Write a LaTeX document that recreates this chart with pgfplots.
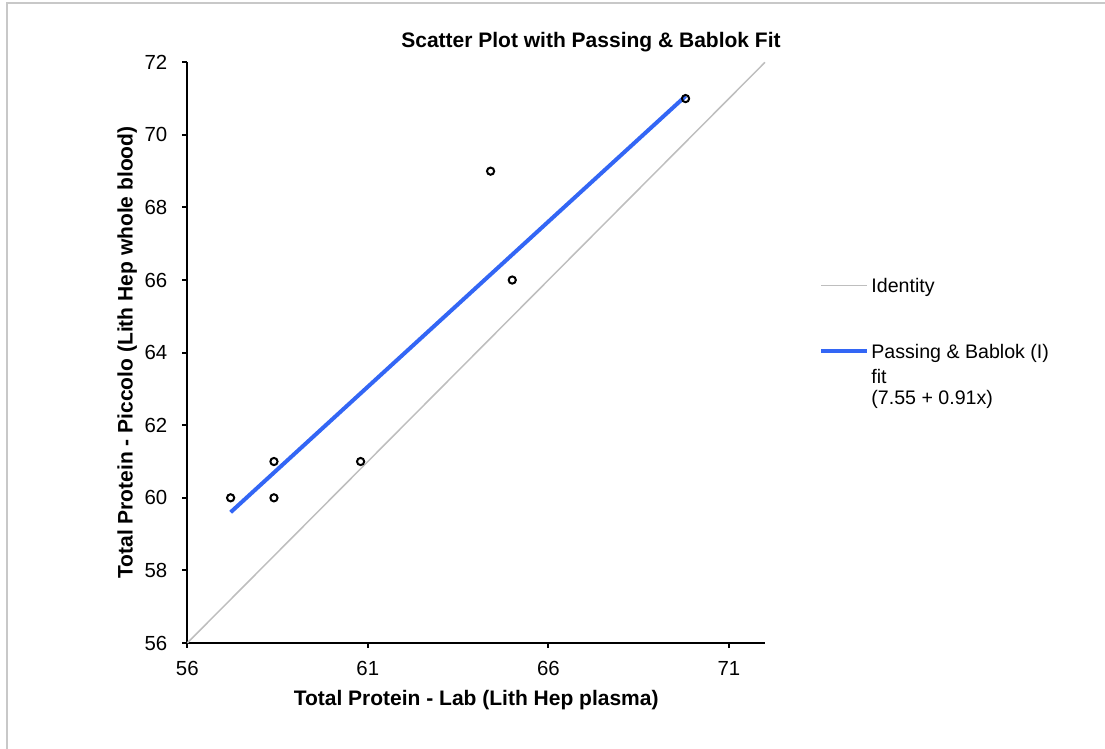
\documentclass[border=0pt]{standalone}
\usepackage{fontspec}
\setmainfont{Liberation Sans}
\usepackage{pgfplots}
\pgfplotsset{compat=1.18}
\definecolor{fitblue}{RGB}{51,102,245}
\definecolor{idgray}{RGB}{190,190,190}
\definecolor{framegray}{RGB}{200,200,200}
\begin{document}
\begin{tikzpicture}[x=0.5pt,y=0.5pt]
\useasboundingbox (0,0) rectangle (1105,749);
% screenshot frame
\draw[framegray, line width=0.8pt] (7,0) -- (7,746) -- (1105,746);
\node[font=\bfseries\fontsize{10.5}{12}\selectfont] at (591,707) {Scatter Plot with Passing \& Bablok Fit};
\begin{axis}[
  at={(93.65pt,53pt)}, anchor=south west,
  scale only axis, width=288.85pt, height=290.35pt,
  xmin=56, xmax=72, ymin=56, ymax=72,
  xtick={56,61,66,71}, ytick={56,58,...,72},
  axis x line=bottom, axis y line=left,
  axis line style={-, line width=1pt, black},
  tick style={black, line width=1pt},
  tick align=outside, major tick length=2.5pt,
  /pgf/number format/assume math mode=true,
  tick label style={font=\fontsize{10.2}{12}\selectfont},
  xticklabel style={yshift=-3pt},
  yticklabel style={xshift=-4pt},
  xlabel={Total Protein - Lab (Lith Hep plasma)},
  ylabel={Total Protein - Piccolo (Lith Hep whole blood)},
  label style={font=\bfseries\fontsize{10.5}{12}\selectfont},
  x label style={at={(axis description cs:0.5,-0.0982)}, anchor=center},
  y label style={at={(axis description cs:-0.1039,0.5)}, anchor=center, rotate=0},
  clip=false,
  legend style={draw=none, fill=none, at={(1.0935,0.6354)}, anchor=north west,
    inner sep=0pt, row sep=0pt, column sep=1pt,
    nodes={inner sep=0pt, text height=9.1pt, text depth=1.9pt, font=\fontsize{9.8}{11}\selectfont},
    cells={anchor=west}},
  legend image code/.code={\draw[#1] (0pt,0pt) -- (23pt,0pt);},
]
\addplot[idgray, line width=0.75pt, mark=none] coordinates {(56,56) (72,72)};
\addlegendentry{Identity}
\addlegendimage{empty legend}\addlegendentry{\phantom{x}}
\addlegendimage{empty legend}\addlegendentry{\phantom{x}}
\addplot[fitblue, line width=2pt, mark=none] coordinates {(57.2,59.602) (69.8,71.068)};
\addlegendentry{Passing \& Bablok (I)}
\addlegendimage{empty legend}\addlegendentry{\raisebox{-1.5pt}{fit}}
\addlegendimage{empty legend}\addlegendentry{\raisebox{-1pt}{(7.55 + 0.91x)}}
\addplot[only marks, mark=o, mark size=1.8pt, mark options={black, line width=1pt}, forget plot]
  coordinates {(57.2,60) (58.4,61) (58.4,60) (60.8,61) (64.4,69) (65.0,66) (69.8,71)};
\end{axis}
\end{tikzpicture}
\end{document}
